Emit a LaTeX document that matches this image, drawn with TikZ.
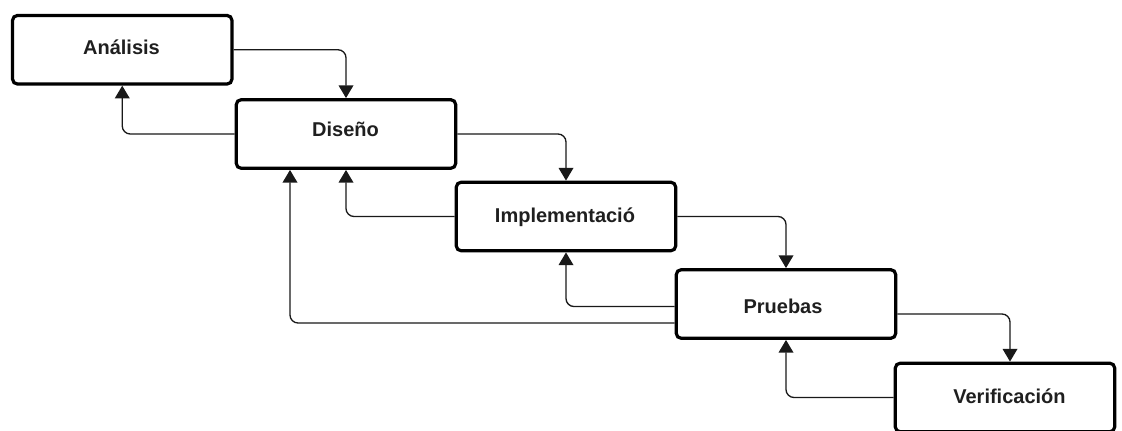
\documentclass[tikz,border=0pt]{standalone}
\usepackage{fontspec}
\setmainfont{Liberation Sans}
\usetikzlibrary{arrows.meta}
\begin{document}
\begin{tikzpicture}[x=0.75pt,y=-0.75pt,
  stagebox/.style={draw=black,line width=2.4pt,rounded corners=3.75pt,fill=white,
    minimum width=164.6pt,minimum height=51.5pt,inner sep=0pt},
  stagetext/.style={anchor=base,inner sep=0pt,text=black!88,
    font=\fontsize{15}{18}\selectfont\bfseries},
  conn/.style={draw=black!90,line width=1pt,rounded corners=6pt,
    -{Triangle[width=11pt,length=9.5pt]}}]
\useasboundingbox (0,0) rectangle (1122,431);

% stage boxes
\node[stagebox] (A) at (122.25,49.75) {};
\node[stagebox] (D) at (346,134) {};
\node[stagebox] (I) at (566,216.5) {};
\node[stagebox] (P) at (786,304) {};
\node[stagebox] (V) at (1005,397.5) {};

% stage names
\node[stagetext] (At) at (121.5,55) {Análisis};
\node[stagetext] (Dt) at (345.5,137) {Diseño};
\node[stagetext] (It) at (565,223) {Implementació};
\node[stagetext] (Pt) at (783,314) {Pruebas};
\node[stagetext] (Vt) at (1009.5,403) {Verificación};

% forward flow
\draw[conn] (A.east) -| (D.north);
\draw[conn] (D.east) -| (I.north);
\draw[conn] (I.east) -| (P.north);
\draw[conn] ([yshift=-7.5pt]P.east) -| ([xshift=3.75pt]V.north);

% feedback flow
\draw[conn] (D.west) -| (A.south);
\draw[conn] (I.west) -| (D.south);
\draw[conn] ([yshift=-1.9pt]P.west) -| (I.south);
\draw[conn] ([yshift=-14.25pt]P.west) -| ([xshift=-42pt]D.south);
\draw[conn] (V.west) -| (P.south);
\end{tikzpicture}
\end{document}
